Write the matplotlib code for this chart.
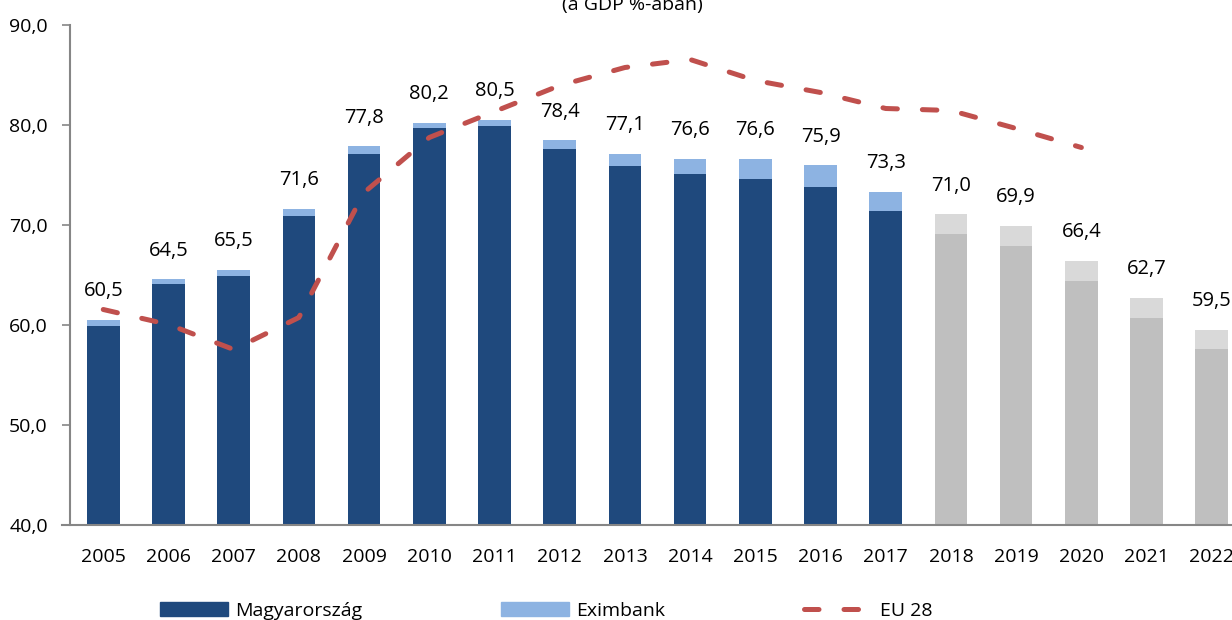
import matplotlib
matplotlib.use("Agg")
import matplotlib.pyplot as plt
from matplotlib.patches import Patch
from matplotlib.lines import Line2D
import numpy as np

plt.rcParams['font.family'] = ['Open Sans', 'DejaVu Sans']

years = ["2005", "2006", "2007", "2008", "2009", "2010", "2011", "2012", "2013",
         "2014", "2015", "2016", "2017", "2018", "2019", "2020", "2021", "2022"]
totals = [60.5, 64.5, 65.5, 71.6, 77.8, 80.2, 80.5, 78.4, 77.1,
          76.6, 76.6, 75.9, 73.3, 71.0, 69.9, 66.4, 62.7, 59.5]
magyarorszag = [59.9, 64.1, 64.9, 70.9, 77.1, 79.7, 79.9, 77.6, 75.9,
                75.1, 74.6, 73.8, 71.4, 69.1, 67.9, 64.4, 60.7, 57.6]
eu28 = [61.5, 60.0, 57.5, 60.7, 73.2, 78.7, 81.3, 83.9, 85.7,
        86.5, 84.4, 83.2, 81.6, 81.4, 79.6, 77.7, None, None]
n_actual = 13  # 2005-2017 actual, rest forecast

DARK = "#1F497D"
LIGHT = "#8DB3E2"
GRAY_D = "#BFBFBF"
GRAY_L = "#D9D9D9"
RED = "#C0504D"
AXC = "#868686"

x = np.arange(len(years))
eximbank = [t - m for t, m in zip(totals, magyarorszag)]
base_col = [DARK if i < n_actual else GRAY_D for i in x]
top_col = [LIGHT if i < n_actual else GRAY_L for i in x]

fig = plt.figure(figsize=(12.32, 6.2), dpi=100)
ax = fig.add_axes([70 / 1232, 1 - 524.5 / 620, 1 - 70 / 1232, 500 / 620])

ax.bar(x, magyarorszag, width=0.5, color=base_col, zorder=2)
ax.bar(x, eximbank, width=0.5, bottom=magyarorszag, color=top_col, zorder=2)

eu_x = [i for i, v in zip(x, eu28) if v is not None]
eu_y = [v for v in eu28 if v is not None]
ax.plot(eu_x, eu_y, color=RED, lw=3.6, dashes=(2.9, 5.0),
        dash_capstyle="round", zorder=3)

for i, t in zip(x, totals):
    ax.annotate(f"{t:.1f}".replace(".", ","), (i, t), xytext=(0, 17),
                textcoords="offset points", ha="center", va="baseline",
                fontsize=14.5, color="black")

ax.set_ylim(40, 90)
ax.set_xlim(-0.51, 17.31)
ax.set_yticks(np.arange(40, 91, 10))
ax.set_yticklabels([f"{v:.1f}".replace(".", ",") for v in np.arange(40, 91, 10)])
ax.set_xticks(x)
ax.set_xticklabels(years)
ax.tick_params(axis="y", length=6, width=1.2, color=AXC, pad=10, labelsize=14)
ax.tick_params(axis="x", length=0, pad=17, labelsize=14)
for s in ("top", "right"):
    ax.spines[s].set_visible(False)
for s in ("left", "bottom"):
    ax.spines[s].set_color(AXC)
    ax.spines[s].set_linewidth(1.5)
ax.spines["bottom"].set_bounds(-0.51 - 8 / 65.2, 17.31)
ax.spines["bottom"].set_clip_on(False)

# title sits partly above the canvas, as in the source image
fig.text(632 / 1232, 1 - 10 / 620, "(a GDP %-ában)", ha="center", va="baseline",
         fontsize=14)

handles = [Patch(color=DARK, label="Magyarország"),
           Patch(color=LIGHT, label="Eximbank"),
           Line2D([], [], color=RED, lw=3.6, dashes=(2.9, 5.0),
                  dash_capstyle="round", label="EU 28")]
fig.legend(handles=handles, loc="center left", ncol=3, frameon=False,
           bbox_to_anchor=(152 / 1232, 1 - 611 / 620), fontsize=14,
           handlelength=3.5, handletextpad=0.4, columnspacing=7.1,
           borderaxespad=0)

fig.savefig("out.png", dpi=100)
